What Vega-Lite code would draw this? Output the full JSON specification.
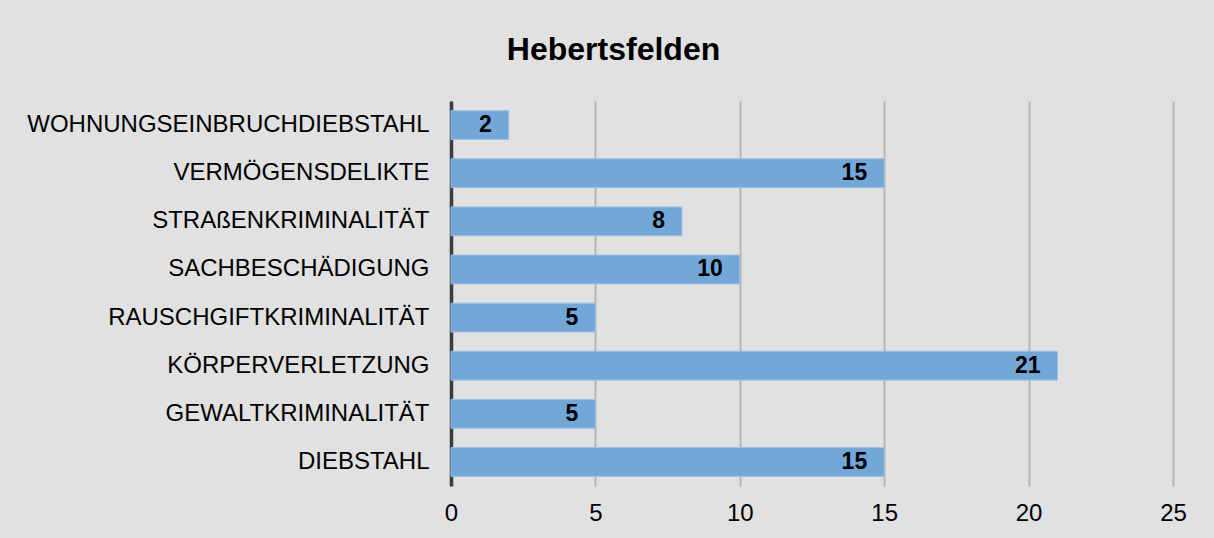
{
  "$schema": "https://vega.github.io/schema/vega-lite/v6.json",
  "width": 722,
  "height": 385,
  "autosize": {"type": "none"},
  "padding": {"left": 451, "top": 101, "right": 41, "bottom": 52},
  "background": "#e1e1e1",
  "title": {
    "text": "Hebertsfelden",
    "font": "Liberation Sans",
    "fontSize": 32,
    "fontWeight": "bold",
    "color": "#000000",
    "anchor": "middle",
    "frame": "bounds",
    "baseline": "alphabetic",
    "offset": 9,
    "dx": 7
  },
  "data": {
    "values": [
      {"kategorie": "WOHNUNGSEINBRUCHDIEBSTAHL", "anzahl": 2},
      {"kategorie": "VERMÖGENSDELIKTE", "anzahl": 15},
      {"kategorie": "STRAßENKRIMINALITÄT", "anzahl": 8},
      {"kategorie": "SACHBESCHÄDIGUNG", "anzahl": 10},
      {"kategorie": "RAUSCHGIFTKRIMINALITÄT", "anzahl": 5},
      {"kategorie": "KÖRPERVERLETZUNG", "anzahl": 21},
      {"kategorie": "GEWALTKRIMINALITÄT", "anzahl": 5},
      {"kategorie": "DIEBSTAHL", "anzahl": 15}
    ]
  },
  "encoding": {
    "y": {
      "field": "kategorie",
      "type": "nominal",
      "sort": null,
      "scale": {"paddingInner": 0.4, "paddingOuter": 0.2},
      "axis": {
        "title": null,
        "ticks": false,
        "tickSize": 0,
        "domainColor": "#3c3c3c",
        "domainWidth": 3.5,
        "labelFont": "Liberation Sans",
        "labelFontSize": 24,
        "labelColor": "#000000",
        "labelPadding": 22,
        "labelLimit": 500
      }
    },
    "x": {
      "field": "anzahl",
      "type": "quantitative",
      "scale": {"domain": [0, 25], "nice": false},
      "axis": {
        "title": null,
        "values": [0, 5, 10, 15, 20, 25],
        "domain": false,
        "ticks": false,
        "tickSize": 0,
        "grid": true,
        "gridColor": "#9a9a9a",
        "gridOpacity": 0.6,
        "gridWidth": 2,
        "labelFont": "Liberation Sans",
        "labelFontSize": 24,
        "labelColor": "#000000",
        "labelPadding": 15,
        "labelFlush": false
      }
    }
  },
  "layer": [
    {
      "mark": {"type": "bar", "color": "#6fa6d8", "stroke": "#9cc3e8", "strokeWidth": 1, "opacity": 0.97}
    },
    {
      "mark": {
        "type": "text",
        "align": "right",
        "baseline": "middle",
        "dx": -17,
        "font": "Liberation Sans",
        "fontSize": 23,
        "fontWeight": "bold",
        "color": "#000000"
      },
      "encoding": {"text": {"field": "anzahl", "type": "quantitative"}}
    }
  ],
  "config": {"view": {"stroke": null}}
}
